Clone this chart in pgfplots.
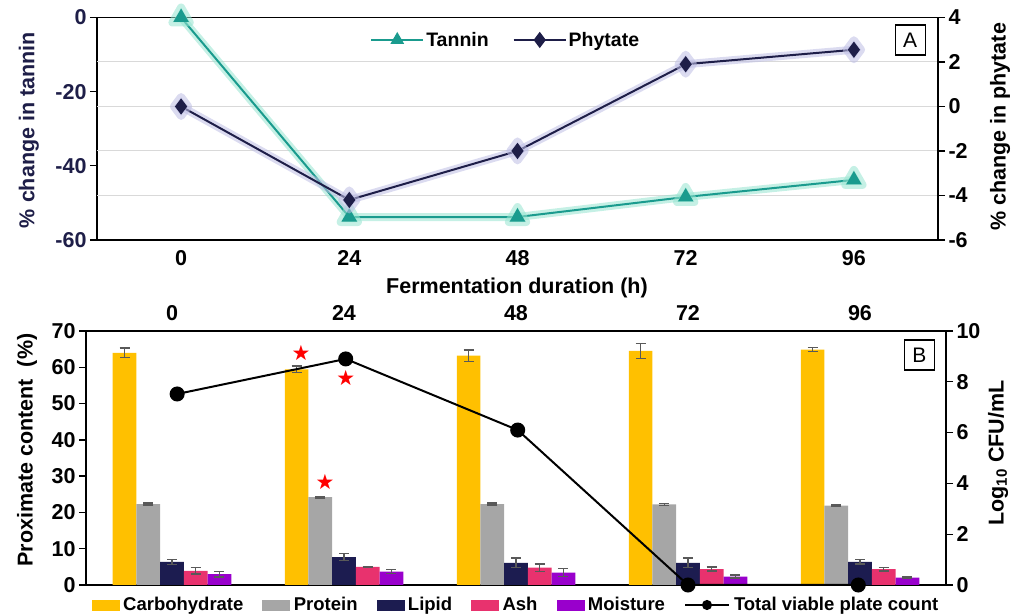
\documentclass[border=0pt]{standalone}
\usepackage{pgfplots}
\pgfplotsset{compat=1.18}
\usepackage{fontspec}
\setmainfont{Liberation Sans}
\newfontfamily\symfont{DejaVu Sans}
\definecolor{teal1}{RGB}{26,155,142}
\definecolor{tealglow}{RGB}{150,228,208}
\definecolor{navy1}{RGB}{30,30,72}
\definecolor{navyglow}{RGB}{190,190,228}
\definecolor{carb}{RGB}{255,192,0}
\definecolor{prot}{RGB}{166,166,166}
\definecolor{lipid}{RGB}{28,28,80}
\definecolor{ash}{RGB}{232,50,110}
\definecolor{moist}{RGB}{153,0,204}
\definecolor{errc}{RGB}{89,89,89}
\definecolor{gridc}{RGB}{217,217,217}
\pgfplotsset{
  common/.style={scale only axis, clip=false,
    font=\bfseries\fontsize{20}{24}\selectfont,
    tick label style={font=\bfseries\fontsize{21.5}{24}\selectfont},
    label style={font=\bfseries\fontsize{21.5}{25}\selectfont},
    major tick length=7pt, tick align=outside,
    axis line style={line width=1.6pt},
    every tick/.style={black, line width=1.3pt},
    xmin=0, xmax=5,
  },
}
\begin{document}
\begin{tikzpicture}
\path[use as bounding box] (0pt,0pt) rectangle (1012pt,615pt);

% ---------------- Panel A ----------------
\begin{axis}[common, at={(97pt,375pt)}, anchor=south west, width=841pt, height=222.5pt,
  ymin=-60, ymax=0,
  ytick={-60,-40,-20,0}, yticklabels={-60,-40,-20,0},
  ytick pos=left, yticklabel style={text=navy1},
  extra y ticks={-48,-36,-24,-12}, extra y tick labels={},
  extra y tick style={grid=major, major grid style={gridc, line width=1pt}, major tick length=0pt},
  xtick={0.5,1.5,2.5,3.5,4.5}, xticklabels={0,24,48,72,96},
  xtick pos=left, xtick style={draw=none},
  xlabel={Fermentation duration (h)},
  xlabel style={at={(axis description cs:0.4994,-0.2157)}, anchor=center},
  ylabel={\% change in tannin},
  ylabel style={at={(axis description cs:-0.0809,0.494)}, anchor=center, text=navy1},
]
\addplot[tealglow, line width=8pt, opacity=0.55, line join=round, line cap=round, forget plot,
  mark=triangle*, mark size=10pt, mark options={fill=tealglow, draw=tealglow}]
  coordinates {(0.5,0) (1.5,-53.8) (2.5,-53.8) (3.5,-48.4) (4.5,-43.8)};
\addplot[teal1, line width=2pt, mark=triangle*, mark size=7pt, mark options={fill=teal1}]
  coordinates {(0.5,0) (1.5,-53.8) (2.5,-53.8) (3.5,-48.4) (4.5,-43.8)};
\node[draw, line width=1.3pt, minimum size=30pt, inner sep=0pt,
  font=\mdseries\fontsize{21}{24}\selectfont] at (rel axis cs:0.967,0.899) {A};
\end{axis}

\begin{axis}[common, at={(97pt,375pt)}, anchor=south west, width=841pt, height=222.5pt,
  ymin=-6, ymax=4, axis y line*=right, axis x line=none,
  ytick={-6,-4,-2,0,2,4}, yticklabels={-6,-4,-2,0,2,4},
  ylabel={\% change in phytate},
  ylabel style={at={(axis description cs:1.0737,0.508)}, anchor=center},
  legend style={at={(0.486,0.899)}, anchor=center, draw=none, fill=none,
    font=\bfseries\fontsize{19.5}{22}\selectfont,
    /tikz/every even column/.append style={column sep=22pt}},
  legend columns=2,
  legend image code/.code={\draw[mark repeat=2,mark phase=2] plot coordinates {(0pt,0pt) (26pt,0pt) (52pt,0pt)};},
]
\addlegendimage{teal1, line width=2pt, mark=triangle*, mark size=6pt, mark options={fill=teal1}}
\addlegendentry{Tannin}
\addplot[navyglow, line width=8pt, opacity=0.55, line join=round, line cap=round, forget plot,
  mark=diamond*, mark size=9.5pt, mark options={fill=navyglow, draw=navyglow}]
  coordinates {(0.5,0) (1.5,-4.2) (2.5,-2.0) (3.5,1.9) (4.5,2.55)};
\addplot[navy1, line width=2pt, mark=diamond*, mark size=6.5pt, mark options={fill=navy1}]
  coordinates {(0.5,0) (1.5,-4.2) (2.5,-2.0) (3.5,1.9) (4.5,2.55)};
\addlegendentry{Phytate}
\end{axis}

% ---------------- Panel B ----------------
\begin{axis}[common, at={(86pt,30pt)}, anchor=south west, width=860pt, height=254pt,
  ymin=0, ymax=70,
  ytick={0,10,20,30,40,50,60,70}, yticklabels={0,10,20,30,40,50,60,70},
  ytick pos=left,
  xtick={0.5,1.5,2.5,3.5,4.5}, xticklabels={0,24,48,72,96},
  xtick pos=right, xticklabel pos=right, xtick style={draw=none},
  ybar=0pt, bar width=23.7pt,
  ylabel={Proximate content\ \ (\%)},
  ylabel style={at={(axis description cs:-0.0686,0.531)}, anchor=center},
  error bars/error bar style={errc, line width=1.4pt},
  error bars/error mark options={errc, rotate=90, mark size=5pt, line width=1.4pt},
]
\addplot[fill=carb, draw=none, error bars/.cd, y dir=both, y explicit]
  coordinates {(0.5,64.0) +- (0,1.3) (1.5,59.4) +- (0,0.9) (2.5,63.2) +- (0,1.6) (3.5,64.5) +- (0,2.0) (4.5,64.9) +- (0,0.6)};
\addplot[fill=prot, draw=none, error bars/.cd, y dir=both, y explicit]
  coordinates {(0.5,22.3) +- (0,0.3) (1.5,24.2) +- (0,0.2) (2.5,22.3) +- (0,0.3) (3.5,22.2) +- (0,0.3) (4.5,21.9) +- (0,0.2)};
\addplot[fill=lipid, draw=none, error bars/.cd, y dir=both, y explicit]
  coordinates {(0.5,6.4) +- (0,0.7) (1.5,7.7) +- (0,1.0) (2.5,6.1) +- (0,1.3) (3.5,6.1) +- (0,1.3) (4.5,6.4) +- (0,0.6)};
\addplot[fill=ash, draw=none, error bars/.cd, y dir=both, y explicit]
  coordinates {(0.5,3.9) +- (0,0.9) (1.5,5.0) +- (0,0.1) (2.5,4.8) +- (0,1.0) (3.5,4.4) +- (0,0.55) (4.5,4.4) +- (0,0.5)};
\addplot[fill=moist, draw=none, error bars/.cd, y dir=both, y explicit]
  coordinates {(0.5,3.0) +- (0,0.8) (1.5,3.7) +- (0,0.6) (2.5,3.4) +- (0,1.1) (3.5,2.3) +- (0,0.4) (4.5,2.0) +- (0,0.2)};
\node[draw, line width=1.3pt, minimum size=30pt, inner sep=0pt,
  font=\mdseries\fontsize{21}{24}\selectfont] at (rel axis cs:0.969,0.905) {B};
\end{axis}

\begin{axis}[common, at={(86pt,30pt)}, anchor=south west, width=860pt, height=254pt,
  ymin=0, ymax=10, axis y line*=right, axis x line=none,
  ytick={0,2,4,6,8,10}, yticklabels={0,2,4,6,8,10},
  ylabel={Log\textsubscript{10} CFU/mL},
  ylabel style={at={(axis description cs:1.0605,0.52)}, anchor=center},
  legend style={at={(0.5,-0.0787)}, anchor=center, draw=none, fill=none,
    font=\bfseries\fontsize{18.5}{21}\selectfont,
    /tikz/every even column/.append style={column sep=17pt},
    /tikz/every odd column/.append style={column sep=2pt}},
  legend columns=6,
]
\addlegendimage{legend image code/.code={\fill[carb] (0pt,-5pt) rectangle (27pt,5pt);}}
\addlegendentry{Carbohydrate}
\addlegendimage{legend image code/.code={\fill[prot] (0pt,-5pt) rectangle (27pt,5pt);}}
\addlegendentry{Protein}
\addlegendimage{legend image code/.code={\fill[lipid] (0pt,-5pt) rectangle (27pt,5pt);}}
\addlegendentry{Lipid}
\addlegendimage{legend image code/.code={\fill[ash] (0pt,-5pt) rectangle (27pt,5pt);}}
\addlegendentry{Ash}
\addlegendimage{legend image code/.code={\fill[moist] (0pt,-5pt) rectangle (27pt,5pt);}}
\addlegendentry{Moisture}
\addplot[black, line width=2pt, mark=*, mark size=6.5pt,
  legend image code/.code={\draw[black, line width=2pt] (0pt,0pt) -- (44pt,0pt); \fill[black] (22pt,0pt) circle (4pt);}]
  coordinates {(0.53,7.52) (1.51,8.9) (2.51,6.1) (3.5,0) (4.49,0)};
\addlegendentry{Total viable plate count}
\addplot[only marks, mark=text, text mark as node=true,
  text mark={\textcolor{red}{\symfont\fontsize{21}{21}\selectfont ★}}, forget plot]
  coordinates {(1.25,9.15) (1.51,8.14) (1.39,4.07)};
\end{axis}
\end{tikzpicture}
\end{document}
